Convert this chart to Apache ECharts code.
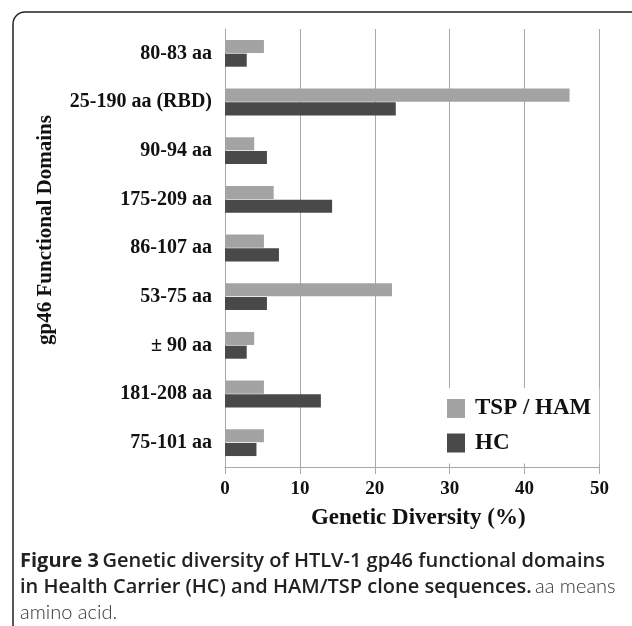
<!DOCTYPE html>
<html>
<head>
<meta charset="utf-8">
<script src="https://cdn.jsdelivr.net/npm/echarts@6/dist/echarts.min.js"></script>
<style>
html,body{margin:0;padding:0;background:#fff;}
#chart{width:632px;height:626px;}
</style>
</head>
<body>
<div id="chart"></div>
<script>
const categories = ['80-83 aa','25-190 aa (RBD)','90-94 aa','175-209 aa','86-107 aa','53-75 aa','\u00b1 90 aa','181-208 aa','75-101 aa'];
const tspHam = [5.2, 46.0, 3.9, 6.5, 5.2, 22.3, 3.9, 5.2, 5.2];
const hc = [2.9, 22.8, 5.6, 14.3, 7.2, 5.6, 2.9, 12.8, 4.2];
const xTicks = [0, 10, 20, 30, 40, 50];

const serif = '"Liberation Serif", "Times New Roman", serif';
const sans = '"Open Sans", "Noto Sans", sans-serif';
const light = 'Lato, "Open Sans", sans-serif';
const gridColor = '#a8a8a8';

const chart = echarts.init(document.getElementById('chart'), null, {renderer:'canvas'});
chart.setOption({
  backgroundColor:'#fff',
  animation:false,
  grid:{left:225, right:32.5, top:29, bottom:159, containLabel:false},
  xAxis:{
    type:'value', min:xTicks[0], max:xTicks[xTicks.length-1], interval:10,
    axisLine:{show:true, lineStyle:{color:gridColor, width:1}},
    axisTick:{show:true, length:7, lineStyle:{color:gridColor}},
    splitLine:{show:true, lineStyle:{color:gridColor, width:1}},
    axisLabel:{fontFamily:serif, fontWeight:'bold', fontSize:19, color:'#111', margin:13},
    name:'Genetic Diversity (%)', nameLocation:'middle', nameGap:40,
    nameTextStyle:{fontFamily:serif, fontWeight:'bold', fontSize:23, color:'#111', padding:[0,0,0,12]}
  },
  yAxis:{
    type:'category', data:categories, inverse:true,
    axisLine:{show:true, lineStyle:{color:gridColor, width:1}},
    axisTick:{show:false},
    splitLine:{show:false},
    axisLabel:{fontFamily:serif, fontWeight:'bold', fontSize:20, color:'#111', margin:13}
  },
  legend:{
    data:['TSP / HAM','HC'], orient:'vertical', left:438, top:388,
    padding:[9,8,9,9], itemWidth:18, itemHeight:19, itemGap:11.5,
    backgroundColor:'#fff', icon:'rect',
    textStyle:{fontFamily:serif, fontWeight:'bold', fontSize:23, color:'#111', lineHeight:19, padding:[0,0,0,5]}
  },
  series:[
    {name:'TSP / HAM', type:'bar', data:tspHam, barCategoryGap:'45%', barGap:'5%',
     itemStyle:{color:'#a3a3a3'}},
    {name:'HC', type:'bar', data:hc, barCategoryGap:'45%', barGap:'5%',
     itemStyle:{color:'#494949'}}
  ],
  graphic:[
    {type:'rect', shape:{x:13, y:12, width:700, height:700, r:12},
     style:{fill:'none', stroke:'#222', lineWidth:1.5}, silent:true},
    {type:'text', x:46, y:230, rotation:Math.PI/2,
     style:{text:'gp46 Functional Domains', font:'bold 21px ' + serif, fill:'#111',
            textAlign:'center', textVerticalAlign:'middle'}},
    {type:'text', x:20, y:561,
     style:{text:'{b|Figure 3} {s|Genetic diversity of HTLV-1 gp46 functional domains}',
            textVerticalAlign:'middle',
            rich:{b:{fontFamily:sans, fontWeight:'bold', fontSize:20, fill:'#222'},
                  s:{fontFamily:sans, fontWeight:600, fontSize:20, fill:'#222'}}}},
    {type:'text', x:20, y:587,
     style:{text:'{s|in Health Carrier (HC) and HAM/TSP clone sequences.} {l|aa means}',
            textVerticalAlign:'middle',
            rich:{s:{fontFamily:sans, fontWeight:600, fontSize:20, fill:'#222'},
                  l:{fontFamily:light, fontWeight:300, fontSize:20, fill:'#333'}}}},
    {type:'text', x:20, y:613,
     style:{text:'amino acid.', font:'300 20px ' + light, fill:'#333', textVerticalAlign:'middle'}}
  ]
});
</script>
</body>
</html>
